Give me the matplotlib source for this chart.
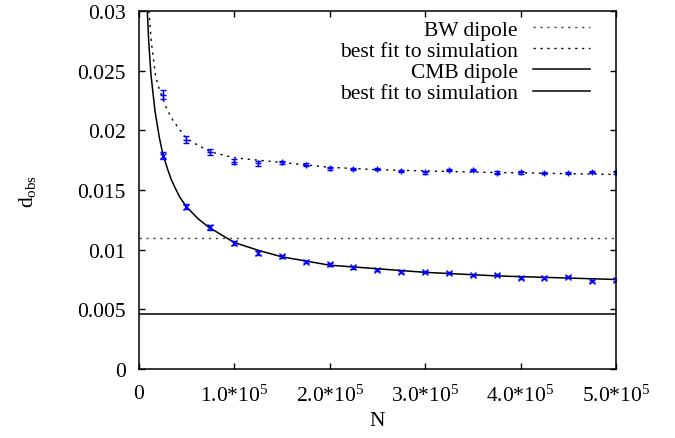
import numpy as np
import matplotlib
matplotlib.use("Agg")
from matplotlib import pyplot as plt

plt.rcParams['font.family'] = ['Liberation Serif', 'DejaVu Serif']
plt.rcParams['mathtext.fontset'] = 'custom'
plt.rcParams['mathtext.rm'] = 'Liberation Serif'
plt.rcParams['mathtext.it'] = 'Liberation Serif:italic'
plt.rcParams['font.size'] = 15.5

# simulated points (N = number of objects)
N = [25000, 50000, 75000, 100000, 125000, 150000, 175000, 200000, 225000, 250000,
     275000, 300000, 325000, 350000, 375000, 400000, 425000, 450000, 475000, 500000]

bw_obs = [0.0230, 0.01922, 0.01816, 0.01737, 0.01724, 0.01732, 0.01712, 0.01682, 0.01676, 0.01676,
          0.01657, 0.01648, 0.01668, 0.0167, 0.01645, 0.01648, 0.01643, 0.01643, 0.01653, 0.01648]
bw_err = [0.0004, 0.0003, 0.00025, 0.0002, 0.0002, 0.00015, 0.00015, 0.00012, 0.00012, 0.0001,
          0.0001, 0.0001, 0.0001, 0.0001, 0.0001, 0.0001, 0.0001, 0.0001, 0.0001, 0.0001]

cmb_obs = [0.01787, 0.0136, 0.01187, 0.01056, 0.00972, 0.00944, 0.00894, 0.00877, 0.00852, 0.0083,
           0.0081, 0.0081, 0.00807, 0.00788, 0.0079, 0.0076, 0.0076, 0.00768, 0.0074, 0.00748]
cmb_err = [0.0003, 0.00022, 0.0002, 0.00015, 0.00013, 0.00012, 0.0001, 0.0001, 0.0001, 0.00009,
           0.00008, 0.00008, 0.00008, 0.00008, 0.00008, 0.00008, 0.00008, 0.00008, 0.00008, 0.00008]

# best fit curves
bw_fit_N = [10700, 13200, 17600, 20500, 25000, 30000, 36000, 50000, 61000, 75000, 100000, 125000,
            150000, 200000, 250000, 350000, 500000]
bw_fit = [0.0300, 0.0274, 0.0246, 0.0237, 0.0227, 0.0217, 0.0208, 0.0193, 0.0188, 0.0182, 0.0177,
          0.0175, 0.0173, 0.0169, 0.0167, 0.0165, 0.0163]

cmb_fit_N = [9000, 10500, 12900, 17100, 21600, 25000, 30000, 34000, 38000, 43000, 50000, 62000,
             73000, 100000, 127000, 150000, 200000, 250000, 300000, 375000, 500000]
cmb_fit = [0.0300, 0.0274, 0.0246, 0.0216, 0.0194, 0.0181, 0.0168, 0.0159, 0.0152, 0.0144, 0.0136,
           0.0126, 0.0119, 0.0106, 0.0099, 0.0094, 0.0087, 0.0084, 0.0081, 0.0078, 0.0075]

# true dipole amplitudes
bw_dipole = 0.011
cmb_dipole = 0.0046

xticks = [0, 100000, 200000, 300000, 400000, 500000]
xticklabels = ['0', '1.0*10$^5$', '2.0*10$^5$', '3.0*10$^5$', '4.0*10$^5$', '5.0*10$^5$']
yticks = [0, 0.005, 0.01, 0.015, 0.02, 0.025, 0.03]
yticklabels = ['0', '0.005', '0.01', '0.015', '0.02', '0.025', '0.03']

dots = (0, (1.6, 3.4))

fig = plt.figure(figsize=(6.75, 4.39), dpi=100)
ax = fig.add_axes([0.2055, 0.1572, 0.7071, 0.8155])

ax.axhline(bw_dipole, color='#444444', lw=1.0, ls=dots, label='BW dipole')
ax.plot(bw_fit_N, bw_fit, color='black', lw=1.0, ls=dots, label='best fit to simulation')
ax.axhline(cmb_dipole, color='black', lw=1.1, label='CMB dipole')
ax.plot(cmb_fit_N, cmb_fit, color='black', lw=1.1, label='best fit to simulation')

ax.errorbar(N, bw_obs, yerr=bw_err, fmt='+', color='blue', ms=5, mew=1.0,
            elinewidth=1.0, capsize=2.5, capthick=1.0)
ax.errorbar(N, cmb_obs, yerr=cmb_err, fmt='x', color='blue', ms=4, mew=1.0,
            elinewidth=1.0, capsize=2.5, capthick=1.0)

ax.set_xlim(0, 500000)
ax.set_ylim(0, 0.03)
ax.set_xticks(xticks)
ax.set_xticklabels(xticklabels)
ax.set_yticks(yticks)
ax.set_yticklabels(yticklabels)
ax.tick_params(direction='in', top=True, right=True, length=4, width=1.0)
ax.tick_params(axis='x', pad=11)
ax.tick_params(axis='y', pad=9.5)
for sp in ax.spines.values():
    sp.set_linewidth(1.1)

ax.set_xlabel('N', labelpad=4)
ax.set_ylabel('d$_{\\mathrm{obs}}$', labelpad=28)

ax.legend(loc='upper right', bbox_to_anchor=(0.9455, 0.976), frameon=False, markerfirst=False,
          handlelength=2.65, handletextpad=0.7, labelspacing=0.05, borderpad=0, borderaxespad=0)

plt.savefig('out.png', dpi=100)
